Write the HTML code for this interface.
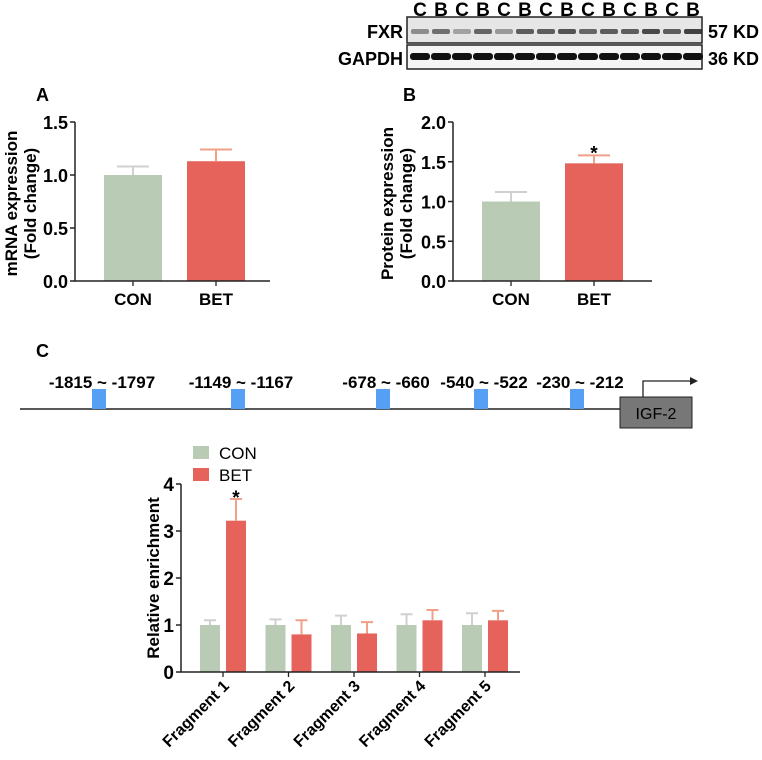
<!DOCTYPE html>
<html><head><meta charset="utf-8"><style>
body{margin:0;background:#fff;width:762px;height:760px;overflow:hidden}
svg{display:block;font-family:"Liberation Sans",Arial,sans-serif;font-weight:bold}
</style></head><body>
<svg id="fig" width="762" height="760">
<g>
<rect x="407" y="17" width="295" height="26" fill="#e6e6e6" stroke="#222" stroke-width="1.5"/>
<rect x="407" y="45" width="295" height="24" fill="#f5f5f5" stroke="#222" stroke-width="1.5"/>
<g id="bands"></g><g id="lanes"></g>
<text x="403" y="38" font-size="18" text-anchor="end">FXR</text>
<text x="403" y="65" font-size="18" text-anchor="end">GAPDH</text>
<text x="708" y="38" font-size="18">57 KD</text>
<text x="708" y="65" font-size="18">36 KD</text>
</g>
<text x="36" y="101" font-size="18">A</text>
<text x="403" y="101" font-size="18">B</text>
<text x="36" y="357" font-size="18">C</text>
<g id="chartA"></g>
<g id="chartB"></g>
<g id="diagram">
<line x1="20" y1="409" x2="620" y2="409" stroke="#222" stroke-width="1.5"/>
<rect x="620" y="397" width="72" height="31" fill="#777" stroke="#222"/>
<text x="656" y="419" font-size="16" font-weight="normal" text-anchor="middle">IGF-2</text>
<path d="M643 397 V381 H690" fill="none" stroke="#222" stroke-width="1.3"/>
<path d="M690 377 L698 381 L690 385 Z" fill="#222"/>
</g>
<g id="chartC"></g>
</svg>
<script>
const NS="http://www.w3.org/2000/svg";
function mk(p,t,a){const e=document.createElementNS(NS,t);for(const k in a)e.setAttribute(k,a[k]);p.appendChild(e);return e;}
const GREEN="#b9cbb4",RED="#e5635a",GERR="#d0d0d0",RERR="#f0a088";
const laneLabels=["C","B","C","B","C","B","C","B","C","B","C","B","C","B"];
const fxrIntensity=[0.45,0.6,0.35,0.65,0.4,0.7,0.7,0.75,0.65,0.7,0.7,0.8,0.7,0.85];
const lanes=document.getElementById('lanes'),bands=document.getElementById('bands');
laneLabels.forEach((l,i)=>{const x=420+i*21;
const t=mk(lanes,'text',{x:x,y:16,'font-size':19,'text-anchor':'middle'});t.textContent=l;


const b=mk(bands,'rect',{x:x-9,y:29,width:18,height:5,rx:2,fill:'#222',opacity:fxrIntensity[i]});


const g=mk(bands,'rect',{x:x-10,y:53,width:20,height:7,rx:3,fill:'#111'});


});
const catsAB=["CON","BET"];
const aVals=[1.0,1.13],aErr=[0.08,0.11];
const bVals=[1.0,1.48],bErr=[0.12,0.10];
const aTicks=[0,0.5,1.0,1.5],bTicks=[0,0.5,1.0,1.5,2.0];
function barChart(id,ax,axEnd,barX,vals,errs,ticks,ymax,title1,title2,star,toff){
const g=document.getElementById(id);const y0=281,y1=122;
const Y=v=>y0-(v/ymax)*(y0-y1);
vals.forEach((v,i)=>{const x=barX[i];const col=i?RED:GREEN,ec=i?RERR:GERR;
const r=mk(g,'rect',{x:x,y:Y(v),width:58,height:y0-Y(v),fill:col});


const e=mk(g,'path',{d:`M${x+29} ${Y(v)} V${Y(v+errs[i])} M${x+13} ${Y(v+errs[i])} H${x+45}`,stroke:ec,'stroke-width':2,fill:'none'});


const t=mk(g,'text',{x:x+29,y:305,'font-size':17,'text-anchor':'middle'});t.textContent=catsAB[i];


mk(g,'line',{x1:x+29,y1:y0,x2:x+29,y2:y0+5,stroke:'#222','stroke-width':1.3});
if(star&&i==1){const s=mk(g,'text',{x:x+29,y:Y(v+errs[i])+4,'font-size':19,'text-anchor':'middle'});s.textContent='*';

}
});
mk(g,'path',{d:`M${ax} ${y1} V${y0} H${axEnd}`,stroke:'#222','stroke-width':1.5,fill:'none'});
ticks.forEach(v=>{mk(g,'line',{x1:ax-5,y1:Y(v),x2:ax,y2:Y(v),stroke:'#222','stroke-width':1.5});
const t=mk(g,'text',{x:ax-7,y:Y(v)+7,'font-size':18,'text-anchor':'end'});t.textContent=v.toFixed(1);

});
const tt=mk(g,'text',{transform:`translate(${ax-toff},${(y0+y1)/2+2}) rotate(-90)`,'font-size':17,'text-anchor':'middle'});
const s1=mk(tt,'tspan',{x:0,dy:-10});s1.textContent=title1;
const s2=mk(tt,'tspan',{x:0,dy:19});s2.textContent=title2;


}
barChart('chartA',75,270,[104,187],aVals,aErr,aTicks,1.5,'mRNA expression','(Fold change)',false,48);
barChart('chartB',453,652,[482,565],bVals,bErr,bTicks,2.0,'Protein expression','(Fold change)',true,50);
const sites=["-1815 ~ -1797","-1149 ~ -1167","-678 ~ -660","-540 ~ -522","-230 ~ -212"];
const siteX=[92,231,376,474,570];
const dg=document.getElementById('diagram');
sites.forEach((s,i)=>{const r=mk(dg,'rect',{x:siteX[i],y:389,width:14,height:20,fill:'#55a0f5'});


const t=mk(dg,'text',{x:siteX[i]+10,y:388,'font-size':17,'text-anchor':'middle'});t.textContent=s;

});
const fragments=["Fragment 1","Fragment 2","Fragment 3","Fragment 4","Fragment 5"];
const conVals=[1,1,1,1,1],conErr=[0.1,0.12,0.2,0.23,0.25];
const betVals=[3.22,0.8,0.82,1.1,1.1],betErr=[0.46,0.3,0.24,0.22,0.2];
const cTicks=[0,1,2,3,4];
(function(){const g=document.getElementById('chartC');const ax=181,y0=672,y1=484;
const Y=v=>y0-(v/4)*(y0-y1);const GX=i=>223+i*65.5;
fragments.forEach((f,i)=>{const c=GX(i);
[[conVals[i],conErr[i],c-23,GREEN,GERR,'con'],[betVals[i],betErr[i],c+3,RED,RERR,'bet']].forEach(d=>{
const r=mk(g,'rect',{x:d[2],y:Y(d[0]),width:20,height:y0-Y(d[0]),fill:d[3]});


const e=mk(g,'path',{d:`M${d[2]+10} ${Y(d[0])} V${Y(d[0]+d[1])} M${d[2]+4} ${Y(d[0]+d[1])} H${d[2]+16}`,stroke:d[4],'stroke-width':2,fill:'none'});

});
mk(g,'line',{x1:c,y1:y0,x2:c,y2:y0+5,stroke:'#222','stroke-width':1.3});
const t=mk(g,'text',{transform:`translate(${c+7},${y0+15}) rotate(-45)`,'font-size':16,'text-anchor':'end'});t.textContent=f;

});
const s=mk(g,'text',{x:GX(0)+13,y:Y(betVals[0]+betErr[0])+5,'font-size':19,'text-anchor':'middle'});s.textContent='*';


mk(g,'path',{d:`M${ax} ${y1} V${y0} H520`,stroke:'#222','stroke-width':1.5,fill:'none'});
cTicks.forEach(v=>{mk(g,'line',{x1:ax-5,y1:Y(v),x2:ax,y2:Y(v),stroke:'#222','stroke-width':1.5});
const t=mk(g,'text',{x:ax-7,y:Y(v)+7,'font-size':19,'text-anchor':'end'});t.textContent=v;

});
const tt=mk(g,'text',{transform:`translate(159,${(y0+y1)/2}) rotate(-90)`,'font-size':17,'text-anchor':'middle'});tt.textContent='Relative enrichment';


[['CON',446,GREEN],['BET',468,RED]].forEach(l=>{
const r=mk(g,'rect',{x:193,y:l[1],width:16,height:13,fill:l[2]});


const t=mk(g,'text',{x:219,y:l[1]+13,'font-size':17,'font-weight':'normal'});t.textContent=l[0];

});
})();
</script>
</body></html>
